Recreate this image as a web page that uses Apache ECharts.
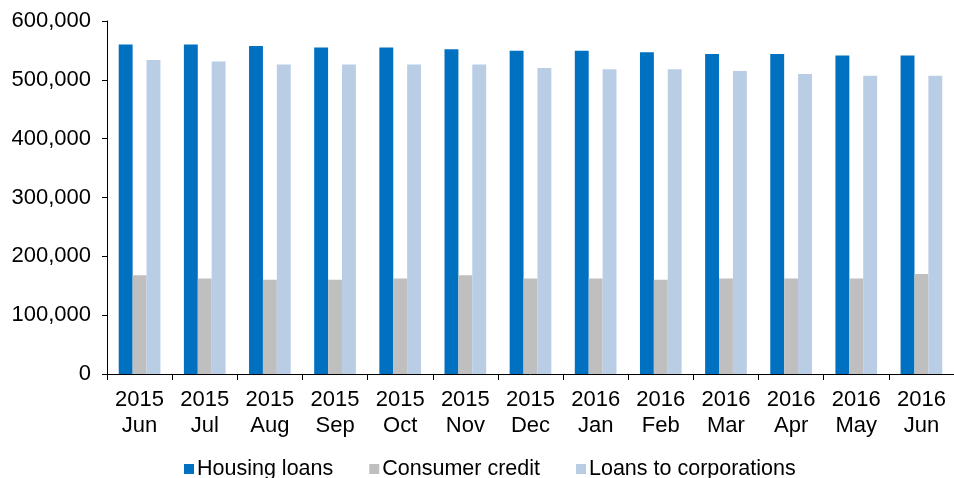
<!DOCTYPE html>
<html>
<head>
<meta charset="utf-8">
<script src="https://cdn.jsdelivr.net/npm/echarts@6/dist/echarts.min.js"></script>
<style>
  html, body { margin: 0; padding: 0; background: #fff; }
  #chart { width: 954px; height: 478px; }
</style>
</head>
<body>
<div id="chart"></div>
<script>
// months shown on the category axis (year on first line, month on second)
const categories = [
  "2015\nJun", "2015\nJul", "2015\nAug", "2015\nSep", "2015\nOct", "2015\nNov", "2015\nDec",
  "2016\nJan", "2016\nFeb", "2016\nMar", "2016\nApr", "2016\nMay", "2016\nJun"
];
const housingLoans = [560000, 560000, 557500, 555000, 555000, 552000, 549500, 549500, 547000, 544000, 544000, 541500, 541500];
const consumerCredit = [168000, 162500, 160000, 160000, 162500, 168000, 162500, 162500, 160000, 162500, 162500, 162500, 170000];
const corporateLoans = [533500, 531000, 526000, 526000, 526000, 526000, 520000, 518000, 518000, 515000, 510000, 507000, 507000];

const FONT = "Liberation Sans, Arial, sans-serif";

const chart = echarts.init(document.getElementById("chart"));
chart.setOption({
  animation: false,
  textStyle: { fontFamily: FONT },
  grid: { left: 107, right: 0, top: 21, bottom: 104, containLabel: false },
  legend: {
    left: 179,
    top: 453,
    itemWidth: 10,
    itemHeight: 10,
    itemGap: 36,
    icon: "rect",
    textStyle: { fontFamily: FONT, fontSize: 21.5, color: "#000", padding: [0, 0, 0, -2] },
    data: ["Housing loans", "Consumer credit", "Loans to corporations"]
  },
  xAxis: {
    type: "category",
    data: categories,
    axisLine: { lineStyle: { color: "#000", width: 1 } },
    axisTick: { show: true, length: 6, lineStyle: { color: "#000" } },
    axisLabel: {
      color: "#000",
      fontSize: 22,
      fontFamily: FONT,
      lineHeight: 26,
      margin: 13
    }
  },
  yAxis: {
    type: "value",
    min: 0,
    max: 600000,
    interval: 100000,
    splitLine: { show: false },
    axisLine: { show: true, lineStyle: { color: "#000", width: 1 } },
    axisTick: { show: true, length: 5, lineStyle: { color: "#000" } },
    axisLabel: {
      color: "#000",
      fontSize: 22,
      fontFamily: FONT,
      margin: 16,
      formatter: v => v.toLocaleString("en-US")
    }
  },
  series: [
    {
      name: "Housing loans",
      type: "bar",
      data: housingLoans,
      barGap: "0%",
      barCategoryGap: "36%",
      itemStyle: { color: "#0070C0" }
    },
    {
      name: "Consumer credit",
      type: "bar",
      data: consumerCredit,
      itemStyle: { color: "#BFBFBF" }
    },
    {
      name: "Loans to corporations",
      type: "bar",
      data: corporateLoans,
      itemStyle: { color: "#B9CDE5" }
    }
  ]
});
</script>
</body>
</html>
